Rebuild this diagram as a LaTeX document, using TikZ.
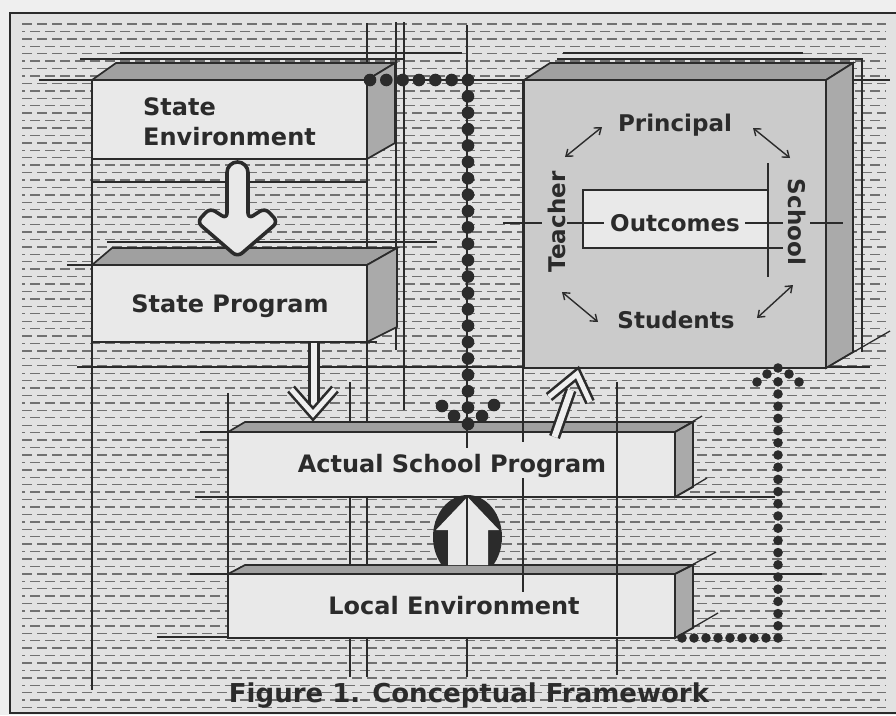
\documentclass[tikz,border=0pt]{standalone}
\usepackage{fontspec}
\setmainfont{DejaVu Sans}
\usetikzlibrary{arrows.meta}
\definecolor{paper}{HTML}{EFEFEF}
\definecolor{field}{HTML}{E2E2E2}
\definecolor{ink}{HTML}{2B2B2B}
\definecolor{dashgray}{HTML}{717171}
\definecolor{face}{HTML}{E9E9E9}
\definecolor{topface}{HTML}{A0A0A0}
\definecolor{sideface}{HTML}{AAAAAA}
\definecolor{bigface}{HTML}{CBCBCB}
\begin{document}
\begin{tikzpicture}[x=1pt,y=-1pt,
  rule/.style={draw=ink, line width=1.3pt},
  edge/.style={draw=ink, line width=1.7pt, line join=miter},
  hatchrow/.style={draw=dashgray, line width=1.4pt, dash pattern=on 10pt off 5pt},
  lbl/.style={font=\bfseries\fontsize{24}{29}\selectfont, text=ink, inner sep=0pt},
  small/.style={font=\bfseries\fontsize{23}{28}\selectfont, text=ink, inner sep=0pt},
  dbl/.style={draw=ink, line width=2.6pt, double=paper, double distance=6.2pt, line join=miter},
  rel/.style={draw=ink, line width=1.4pt, {Straight Barb[length=6pt,width=9pt]}-{Straight Barb[length=6pt,width=9pt]}},
  bigdot/.style={fill=ink},
]
\useasboundingbox (0,0) rectangle (896,715);
% paper and framed field
\fill[paper] (0,0) rectangle (896,715);
\fill[field] (10,13) rectangle (896,713);
\draw[ink, line width=1.2pt] (896,13) -- (10,13) -- (10,713) -- (896,713);

% ruled dash texture
\foreach \i in {0,...,92} {
  \pgfmathsetmacro\yy{24+\i*7.43}
  \pgfmathsetmacro\ph{mod(\i,2)*7}
  \draw[hatchrow, dash phase=\ph pt] (22,\yy) -- (886,\yy);
}

% construction lines behind the blocks
\draw[rule] (120,53) -- (462,53);
\draw[rule] (563,53) -- (803,53);
\draw[rule] (80,59) -- (403,59);
\draw[rule] (557,59) -- (862,59);
\draw[rule] (39,80) -- (890,80);
\draw[rule] (92,182) -- (367,182);
\draw[rule] (107,242) -- (437,242);
\draw[rule] (67,265) -- (92,265);
\draw[rule] (92,342) -- (377,342);
\draw[rule] (77,367) -- (870,367);
\draw[rule] (200,432) -- (228,432);
\draw[rule] (195,497) -- (775,497);
\draw[rule] (190,574) -- (822,574);
\draw[rule] (157,637) -- (228,637);
\draw[rule] (92,80) -- (92,690);
\draw[rule] (228,393) -- (228,637);
\draw[rule] (350,382) -- (350,422);
\draw[rule] (350,497) -- (350,565);
\draw[rule] (350,637) -- (350,677);
\draw[rule] (367,23) -- (367,422);
\draw[rule] (367,497) -- (367,565);
\draw[rule] (367,637) -- (367,677);
\draw[rule] (396,22) -- (396,350);
\draw[rule] (404,22) -- (404,410);
\draw[rule] (467,637) -- (467,677);
\draw[rule] (617,637) -- (617,675);
\draw[rule] (862,58) -- (862,352);

% State Environment block
\filldraw[edge, fill=face] (92,80) rectangle (367,159);
\filldraw[edge, fill=topface] (92,80) -- (116,63) -- (395,63) -- (367,80) -- cycle;
\filldraw[edge, fill=sideface] (367,80) -- (395,63) -- (395,143) -- (367,159) -- cycle;

% State Program block
\filldraw[edge, fill=face] (92,265) rectangle (367,342);
\filldraw[edge, fill=topface] (92,265) -- (112,248) -- (397,248) -- (367,265) -- cycle;
\filldraw[edge, fill=sideface] (367,265) -- (397,248) -- (397,327) -- (367,342) -- cycle;

% Actual School Program block
\filldraw[edge, fill=face] (228,432) rectangle (675,497);
\filldraw[edge, fill=topface] (228,432) -- (245,422) -- (693,422) -- (675,432) -- cycle;
\filldraw[edge, fill=sideface] (675,432) -- (693,422) -- (693,487) -- (675,497) -- cycle;
\draw[rule] (675,432) -- (702,416);
\draw[rule] (675,497) -- (707,478);

% Local Environment block
\filldraw[edge, fill=face] (228,574) rectangle (675,638);
\filldraw[edge, fill=topface] (228,574) -- (245,565) -- (693,565) -- (675,574) -- cycle;
\filldraw[edge, fill=sideface] (675,574) -- (693,565) -- (693,628) -- (675,638) -- cycle;
\draw[rule] (675,574) -- (716,552);
\draw[rule] (675,638) -- (718,613);

% school block
\filldraw[edge, fill=bigface] (524,80) rectangle (826,368);
\filldraw[edge, fill=topface] (524,80) -- (550,63) -- (853,63) -- (826,80) -- cycle;
\filldraw[edge, fill=sideface] (826,80) -- (853,63) -- (853,352) -- (826,368) -- cycle;
\draw[rule] (826,368) -- (890,331);

% lines crossing the blocks
\draw[rule] (523,80) -- (523,442);
\draw[rule] (523,478) -- (523,592);
\draw[rule] (617,382) -- (617,636);
\draw[rule] (467,25) -- (467,448);

% outcomes frame inside the school block
\fill[face] (583,190) rectangle (768,248);
\draw[rule] (768,190) -- (583,190) -- (583,248) -- (783,248);
\draw[rule] (768,163) -- (768,277);
\draw[rule] (503,223) -- (542,223);
\draw[rule] (567,223) -- (604,223);
\draw[rule] (745,223) -- (783,223);
\draw[rule] (810,223) -- (843,223);

% labels
\node[lbl, anchor=base west] (stateEnvA) at (143,115) {State};
\node[lbl, anchor=base west] (stateEnvB) at (143,145) {Environment};
\node[lbl, anchor=base] (stateProg) at (230,312) {State Program};
\node[lbl, anchor=base] (actual) at (452,472) {Actual School Program};
\node[lbl, anchor=base] (local) at (454,614) {Local Environment};
\node[small, anchor=base] (principal) at (675,131) {Principal};
\node[small, anchor=base] (students) at (676,328) {Students};
\node[small, anchor=base] (outcomes) at (675,231) {Outcomes};
\node[small, rotate=90] (teacher) at (557,222) {Teacher};
\node[small, rotate=-90] (school) at (797,222) {School};
\node[lbl, font=\bfseries\fontsize{26}{30}\selectfont, anchor=base] (caption) at (469,702) {Figure 1. Conceptual Framework};

% relations around the outcomes
\draw[rel] (565,157) -- (602,127);
\draw[rel] (753,128) -- (790,158);
\draw[rel] (562,292) -- (598,322);
\draw[rel] (757,318) -- (793,285);

% hollow arrow: state environment to state program
\draw[ink, line width=3.6pt, fill=face, line join=round]
  (227,219) -- (227,172.5) arc[start angle=180, end angle=0, radius=10.5pt]
  [rounded corners=6pt] -- (248,219) -- (265,208) -- (278,222) -- (237.5,257)
  -- (197,222) -- (210,208) -- cycle;

% double arrow: state program to actual school program
\draw[dbl] (313.8,343) -- (313.8,408);
\draw[dbl, double distance=5pt] (291,389) -- (313,414) -- (335,389);

% double arrow: actual school program to the school block
\draw[dbl] (554.5,437) -- (571,390);
\draw[dbl, double distance=5pt] (549,397) -- (577,374) -- (590,402);

% black dome with rising arrow: local environment to actual school program
\begin{scope}
  \clip (420,480) rectangle (520,565);
  \fill[ink] (467.5,537) ellipse [x radius=34.5pt, y radius=42pt];
\end{scope}
\fill[face] (448,565) -- (448,530) -- (436,530) -- (467.5,497) -- (499,530)
  -- (488,530) -- (488,565) -- cycle;
\draw[rule] (467,497) -- (467,565);

% dotted route: state environment to actual school program
\foreach \k in {0,...,6} \fill[bigdot] (370+\k*16.33,80) circle (6.3pt);
\foreach \k in {1,...,21} \fill[bigdot] (468,80+\k*16.38) circle (6.3pt);
\fill[bigdot] (442,406) circle (6.3pt);
\fill[bigdot] (454,416) circle (6.3pt);
\fill[bigdot] (482,416) circle (6.3pt);
\fill[bigdot] (494,405) circle (6.3pt);

% dotted route: local environment to the school block
\foreach \k in {0,...,8} \fill[bigdot] (682+\k*12,638) circle (4.8pt);
\foreach \k in {1,...,21} \fill[bigdot] (778,638-\k*12.2) circle (4.8pt);
\fill[bigdot] (778,368) circle (4.8pt);
\fill[bigdot] (767,374) circle (4.8pt);
\fill[bigdot] (757,382) circle (4.8pt);
\fill[bigdot] (789,374) circle (4.8pt);
\fill[bigdot] (799,382) circle (4.8pt);
\end{tikzpicture}
\end{document}
